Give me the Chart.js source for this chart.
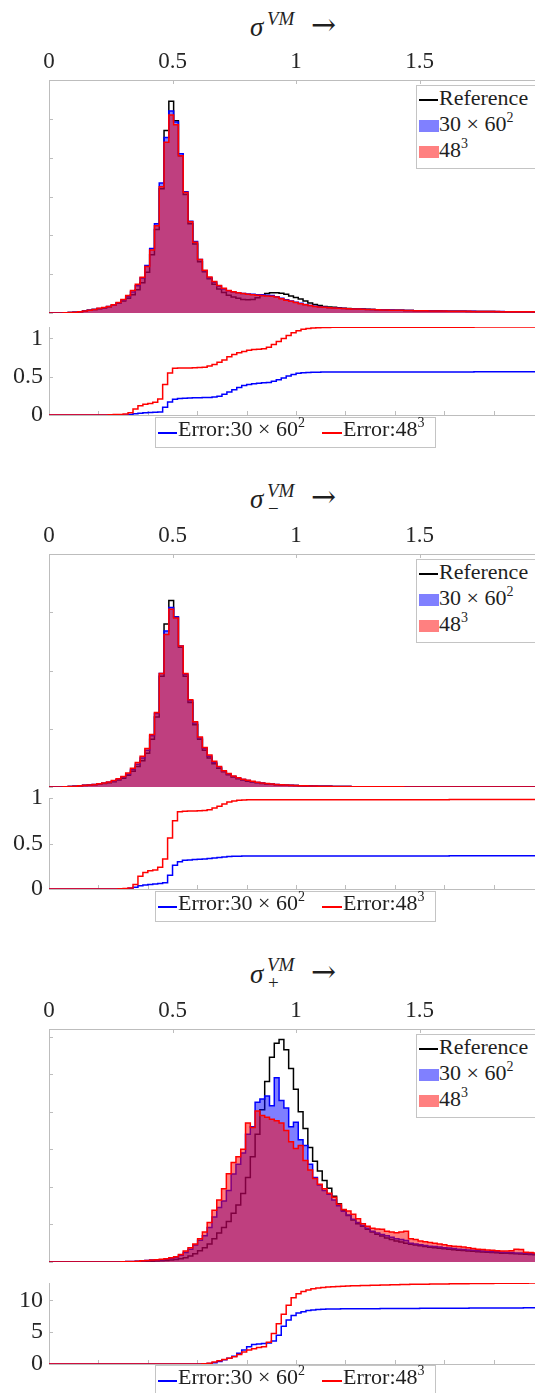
<!DOCTYPE html>
<html>
<head>
<meta charset="utf-8">
<script src="https://cdn.jsdelivr.net/npm/chart.js@4.4.1/dist/chart.umd.min.js"></script>
<style>
  html, body { margin: 0; padding: 0; background: #fff; }
  body { width: 535px; height: 1393px; position: relative; overflow: hidden;
         font-family: "Liberation Serif", "DejaVu Serif", serif; color: #1f1f1f; }
  canvas { position: absolute; left: 0; }
  .ttl span { position: absolute; line-height: 0; white-space: nowrap; }
  .ttl .sg { font-style: italic; font-size: 27px; }
  .ttl .sc { font-style: italic; font-size: 19px; }
  .ttl .sb { font-size: 19px; }
  .ttl .ar { font-size: 30px; font-family: "DejaVu Serif", serif; }
  .hleg { position: absolute; left: 416px; width: 140px; height: 82px; background: #fff;
          border: 1px solid #c4c4c4; font-size: 22px; z-index: 5; }
  .eleg { position: absolute; left: 155px; width: 279px; height: 29px; background: #fff;
          border: 1px solid #c4c4c4; font-size: 22px; z-index: 5; }
  .row { position: absolute; height: 26px; line-height: 26px; white-space: nowrap; }
  .ln { position: absolute; height: 1.5px; }
  .sw { position: absolute; width: 20px; height: 12px; }
  sup { font-size: 14px; line-height: 0; position: relative; top: -1px; }
</style>
</head>
<body>

<!-- panel titles -->
<div class="ttl">
  <span class="sg" style="left:250px; top:27px">σ</span>
  <span class="sc" style="left:267px; top:19px">VM</span>
  <span class="ar" style="left:311px; top:25px">→</span>
</div>
<div class="ttl">
  <span class="sg" style="left:250px; top:499px">σ</span>
  <span class="sc" style="left:267px; top:491px">VM</span>
  <span class="sb" style="left:268px; top:509px">−</span>
  <span class="ar" style="left:311px; top:497px">→</span>
</div>
<div class="ttl">
  <span class="sg" style="left:250px; top:974px">σ</span>
  <span class="sc" style="left:267px; top:965px">VM</span>
  <span class="sb" style="left:268px; top:983px">+</span>
  <span class="ar" style="left:311px; top:972px">→</span>
</div>

<canvas id="hist1" width="535" height="276" style="top:40px"></canvas>
<canvas id="err1" width="535" height="126" style="top:307px"></canvas>
<canvas id="hist2" width="535" height="276" style="top:514px"></canvas>
<canvas id="err2" width="535" height="129" style="top:778px"></canvas>
<canvas id="hist3" width="535" height="276" style="top:989px"></canvas>
<canvas id="err3" width="535" height="119" style="top:1263px"></canvas>

<!-- legends -->
<div class="hleg" style="top:85px">
  <div class="row" style="left:22px; top:-1px">Reference</div><span class="ln" style="left:2px; top:13px; width:19px; background:#000"></span>
  <span class="sw" style="left:2px; top:34px; background:#8080ff"></span><div class="row" style="left:22px; top:25px">30 × 60<sup>2</sup></div>
  <span class="sw" style="left:2px; top:60px; background:#ff8080"></span><div class="row" style="left:22px; top:51px">48<sup>3</sup></div>
</div>
<div class="hleg" style="top:559px">
  <div class="row" style="left:22px; top:-1px">Reference</div><span class="ln" style="left:2px; top:13px; width:19px; background:#000"></span>
  <span class="sw" style="left:2px; top:34px; background:#8080ff"></span><div class="row" style="left:22px; top:25px">30 × 60<sup>2</sup></div>
  <span class="sw" style="left:2px; top:60px; background:#ff8080"></span><div class="row" style="left:22px; top:51px">48<sup>3</sup></div>
</div>
<div class="hleg" style="top:1034px">
  <div class="row" style="left:22px; top:-1px">Reference</div><span class="ln" style="left:2px; top:13px; width:19px; background:#000"></span>
  <span class="sw" style="left:2px; top:34px; background:#8080ff"></span><div class="row" style="left:22px; top:25px">30 × 60<sup>2</sup></div>
  <span class="sw" style="left:2px; top:60px; background:#ff8080"></span><div class="row" style="left:22px; top:51px">48<sup>3</sup></div>
</div>

<div class="eleg" style="top:417px">
  <span class="ln" style="left:2px; top:14px; width:19px; background:#0000ff"></span><div class="row" style="left:22px; top:-2px">Error:30 × 60<sup>2</sup></div>
  <span class="ln" style="left:166px; top:14px; width:20px; background:#ff0000"></span><div class="row" style="left:187px; top:-2px">Error:48<sup>3</sup></div>
</div>
<div class="eleg" style="top:891px">
  <span class="ln" style="left:2px; top:14px; width:19px; background:#0000ff"></span><div class="row" style="left:22px; top:-2px">Error:30 × 60<sup>2</sup></div>
  <span class="ln" style="left:166px; top:14px; width:20px; background:#ff0000"></span><div class="row" style="left:187px; top:-2px">Error:48<sup>3</sup></div>
</div>
<div class="eleg" style="top:1365px">
  <span class="ln" style="left:2px; top:14px; width:19px; background:#0000ff"></span><div class="row" style="left:22px; top:-2px">Error:30 × 60<sup>2</sup></div>
  <span class="ln" style="left:166px; top:14px; width:20px; background:#ff0000"></span><div class="row" style="left:187px; top:-2px">Error:48<sup>3</sup></div>
</div>

<script>
// ---- histogram bins (pdf of the von Mises stress) ----
const HIST_BIN = 0.0194;   // histogram bin width
const ERR_STEP = 0.02;     // step of the cumulative error curves
const X_MAX = 1.967;
const xTickLabels = ['0', '0.5', '1', '1.5'];

// sigma^VM
const ref1 = [0,0,0,0.005,0.01,0.02,0.03,0.05,0.07,0.09,
  0.11,0.13,0.16,0.2,0.25,0.31,0.38,0.47,0.6,0.78,
  1.05,1.5,2.15,3.2,4.7,5.45,4.95,4.05,3.05,2.3,
  1.78,1.32,1.06,0.88,0.74,0.62,0.53,0.46,0.41,0.38,
  0.35,0.34,0.35,0.39,0.45,0.5,0.52,0.52,0.51,0.48,
  0.44,0.4,0.36,0.31,0.26,0.22,0.19,0.17,0.155,0.145,
  0.135,0.125,0.118,0.112,0.106,0.1,0.095,0.09,0.086,0.082,
  0.078,0.074,0.071,0.068,0.065,0.062,0.06,0.057,0.055,0.053,
  0.051,0.049,0.048,0.046,0.045,0.043,0.042,0.041,0.04,0.039,
  0.038,0.037,0.036,0.035,0.034,0.033,0.032,0.031,0.03,0.03,
  0.029,0.028];
const coarse1 = [0,0,0,0.005,0.01,0.02,0.03,0.05,0.07,0.09,
  0.115,0.135,0.165,0.2,0.26,0.33,0.42,0.54,0.7,0.9,
  1.22,1.66,2.3,3.35,4.52,5.2,4.92,4.1,3.12,2.36,
  1.84,1.38,1.09,0.91,0.79,0.69,0.62,0.57,0.54,0.52,
  0.5,0.49,0.48,0.47,0.47,0.46,0.45,0.42,0.38,0.34,
  0.31,0.28,0.25,0.22,0.195,0.175,0.16,0.148,0.138,0.13,
  0.123,0.117,0.111,0.106,0.101,0.097,0.093,0.089,0.085,0.081,
  0.078,0.075,0.072,0.069,0.066,0.064,0.061,0.059,0.057,0.055,
  0.053,0.051,0.05,0.048,0.047,0.045,0.044,0.043,0.042,0.041,
  0.04,0.039,0.038,0.037,0.036,0.035,0.034,0.033,0.032,0.032,
  0.031,0.03];
const fine1 = [0,0,0,0.005,0.01,0.02,0.03,0.05,0.07,0.09,
  0.12,0.14,0.17,0.21,0.27,0.35,0.45,0.58,0.74,0.92,
  1.2,1.62,2.25,3.25,4.4,5.1,4.85,4.05,3.1,2.35,
  1.82,1.38,1.1,0.93,0.81,0.71,0.64,0.58,0.55,0.52,
  0.5,0.48,0.47,0.46,0.45,0.44,0.43,0.41,0.37,0.33,
  0.3,0.27,0.24,0.21,0.19,0.17,0.155,0.145,0.135,0.13,
  0.122,0.116,0.11,0.105,0.1,0.096,0.092,0.088,0.084,0.08,
  0.077,0.074,0.071,0.068,0.065,0.063,0.06,0.058,0.056,0.054,
  0.052,0.05,0.049,0.047,0.046,0.044,0.043,0.042,0.041,0.04,
  0.039,0.038,0.037,0.036,0.035,0.034,0.033,0.032,0.031,0.031,
  0.03,0.029];
const errCoarse1 = [0,0,0,0,0,0,0,0,0,0,0,0,0,0,0,0,
  0.005,0.015,0.022,0.028,0.033,0.037,0.04,0.1,0.17,0.205,
  0.215,0.22,0.222,0.225,0.227,0.228,0.23,0.235,0.245,0.27,
  0.3,0.33,0.36,0.385,0.4,0.41,0.415,0.42,0.425,0.44,
  0.46,0.485,0.51,0.53,0.545,0.552,0.556,0.558,0.56,0.561,
  0.562,0.562,0.562,0.562,0.562,0.562,0.562,0.562,0.562,0.562,0.562,0.562,0.562,0.562,0.562,
  0.563,0.563,0.563,0.563,0.563,0.563,0.563,0.563,0.563,0.563,0.563,0.563,0.563,0.563,0.563,
  0.564,0.564,0.564,0.564,0.564,0.564,0.564,0.564,0.564,0.564,0.564,0.564,0.564,0.564,0.564,0.564];
const errFine1 = [0,0,0,0,0,0,0,0,0,0,0,0,
  0.003,0.005,0.008,0.012,0.03,0.08,0.12,0.14,0.15,0.165,
  0.21,0.4,0.55,0.61,0.615,0.615,0.615,0.617,0.62,0.625,
  0.64,0.66,0.69,0.72,0.76,0.79,0.815,0.83,0.845,0.855,
  0.86,0.865,0.885,0.92,0.96,1.0,1.04,1.075,1.1,1.12,
  1.13,1.137,1.141,1.144,1.145,
  1.146,1.146,1.146,1.146,1.146,1.146,1.146,1.146,
  1.147,1.147,1.147,1.147,1.147,1.147,1.147,1.147,1.147,1.147,1.147,
  1.148,1.148,1.148,1.148,1.148,1.148,1.148,1.148,1.148,1.148,
  1.149,1.149,1.149,1.149,1.149,1.149,1.149,1.149,1.149,1.149,
  1.15,1.15,1.15,1.15,1.15,1.15];

// sigma^VM_-
const ref2 = [0,0,0,0.005,0.01,0.015,0.02,0.025,0.03,0.04,
  0.05,0.06,0.075,0.09,0.12,0.15,0.2,0.27,0.35,0.45,
  0.58,0.82,1.2,1.9,2.8,3.2,2.92,2.4,1.9,1.45,
  1.07,0.82,0.63,0.5,0.4,0.32,0.26,0.21,0.17,0.14,
  0.12,0.1,0.085,0.072,0.062,0.053,0.046,0.04,0.035,0.031,
  0.027,0.024,0.021,0.019,0.017,0.015,0.013,0.012,0.011,0.01,
  0.009,0.008,0.007,0.006,0.006,0.005,0.005,0.004,0.004,0.004,
  0.003,0.003,0.003,0.003,0.002,0.002,0.002,0.002,0.002,0.002,
  0.002,0.001,0.001,0.001,0.001,0.001,0.001,0.001,0.001,0.001,
  0.001,0.001,0.001,0.001,0.001,0.001,0.001,0.001,0.001,0.001,
  0.001,0.001];
const coarse2 = [0,0,0,0.005,0.01,0.015,0.02,0.028,0.033,0.043,
  0.053,0.066,0.08,0.1,0.13,0.17,0.22,0.3,0.39,0.5,
  0.63,0.88,1.26,1.95,2.68,3.08,2.92,2.42,1.93,1.48,
  1.1,0.84,0.66,0.53,0.42,0.34,0.27,0.22,0.18,0.15,
  0.13,0.11,0.092,0.078,0.067,0.057,0.049,0.042,0.037,0.032,
  0.028,0.025,0.022,0.02,0.018,0.016,0.014,0.012,0.011,0.01,
  0.009,0.008,0.007,0.006,0.006,0.005,0.005,0.004,0.004,0.004,
  0.003,0.003,0.003,0.003,0.002,0.002,0.002,0.002,0.002,0.002,
  0.002,0.001,0.001,0.001,0.001,0.001,0.001,0.001,0.001,0.001,
  0.001,0.001,0.001,0.001,0.001,0.001,0.001,0.001,0.001,0.001,
  0.001,0.001];
const fine2 = [0,0,0,0.005,0.01,0.015,0.02,0.03,0.035,0.045,
  0.055,0.07,0.085,0.11,0.14,0.18,0.24,0.32,0.42,0.53,
  0.66,0.9,1.28,1.95,2.62,3.05,2.9,2.42,1.95,1.5,
  1.12,0.86,0.68,0.55,0.44,0.35,0.28,0.23,0.19,0.16,
  0.135,0.115,0.097,0.082,0.07,0.06,0.051,0.044,0.038,0.033,
  0.029,0.025,0.022,0.02,0.018,0.016,0.014,0.012,0.011,0.01,
  0.009,0.008,0.007,0.006,0.006,0.005,0.005,0.004,0.004,0.004,
  0.003,0.003,0.003,0.003,0.002,0.002,0.002,0.002,0.002,0.002,
  0.002,0.001,0.001,0.001,0.001,0.001,0.001,0.001,0.001,0.001,
  0.001,0.001,0.001,0.001,0.001,0.001,0.001,0.001,0.001,0.001,
  0.001,0.001];
const errCoarse2 = [0,0,0,0,0,0,0,0,0,0,0,0,0,0,0,
  0.003,0.008,0.02,0.035,0.045,0.05,0.055,0.06,0.07,0.15,
  0.26,0.3,0.315,0.32,0.323,0.327,0.33,0.335,0.34,0.347,
  0.352,0.356,0.359,0.361,0.362,
  0.363,0.363,0.363,0.363,0.363,0.363,0.363,0.363,0.363,0.363,0.363,
  0.363,0.363,0.363,0.363,0.363,0.363,0.363,0.363,0.363,0.363,
  0.364,0.364,0.364,0.364,0.364,0.364,0.364,0.364,0.364,0.364,
  0.364,0.364,0.364,0.364,0.364,0.364,0.364,0.364,0.364,0.364,
  0.365,0.365,0.365,0.365,0.365,0.365,0.365,0.365,0.365,0.365,0.365,
  0.365,0.365,0.365,0.365,0.365,0.365,0.365,0.365,0.365,0.365];
const errFine2 = [0,0,0,0,0,0,0,0,0,0,0,0,0,0,
  0.002,0.005,0.01,0.05,0.14,0.18,0.2,0.21,0.24,0.33,
  0.56,0.75,0.85,0.855,0.857,0.858,0.86,0.863,0.87,0.89,
  0.91,0.935,0.955,0.968,0.975,0.978,0.98,
  0.981,0.981,0.981,0.981,0.981,0.981,0.981,0.981,0.981,0.981,
  0.981,0.981,0.981,0.981,0.981,0.981,0.981,0.981,0.981,0.981,
  0.982,0.982,0.982,0.982,0.982,0.982,0.982,0.982,0.982,0.982,
  0.982,0.982,0.982,0.982,0.982,0.982,0.982,0.982,0.982,0.982,
  0.983,0.983,0.983,0.983,0.983,0.983,0.983,0.983,0.983,0.983,0.983,
  0.983,0.983,0.983,0.983,0.983,0.983,0.983,0.983,0.983,0.983];

// sigma^VM_+
const ref3 = [0,0,0,0,0,0,0,0,0,0,0,0,0,0,0,0,
  0.003,0.006,0.01,0.013,0.017,0.021,0.026,0.031,0.037,0.05,
  0.065,0.085,0.11,0.16,0.22,0.3,0.38,0.48,0.62,0.77,
  0.92,1.08,1.3,1.52,1.82,2.25,2.8,3.4,4.05,4.8,
  5.45,5.82,5.92,5.65,5.15,4.6,4.0,3.55,3.05,2.68,
  2.42,2.17,1.96,1.75,1.55,1.38,1.24,1.12,1.02,0.95,
  0.87,0.8,0.74,0.69,0.64,0.6,0.56,0.53,0.5,0.475,
  0.455,0.435,0.415,0.395,0.38,0.365,0.35,0.34,0.325,0.315,
  0.305,0.295,0.285,0.275,0.265,0.258,0.25,0.243,0.236,0.23,
  0.224,0.218,0.212,0.206,0.2,0.195];
const coarse3 = [0,0,0,0,0,0,0,0,0,0,0,0,0,0,0,
  0.005,0.01,0.015,0.02,0.03,0.04,0.05,0.055,0.06,0.07,
  0.09,0.12,0.18,0.25,0.34,0.45,0.58,0.7,0.92,1.2,
  1.45,1.62,1.9,2.34,2.6,2.9,3.4,3.6,4.25,4.34,
  4.42,4.16,4.9,4.3,4.1,3.6,3.72,3.25,3.1,2.6,
  2.25,2.05,1.9,1.8,1.65,1.5,1.35,1.25,1.14,1.05,
  0.97,0.9,0.82,0.77,0.73,0.7,0.66,0.62,0.6,0.57,
  0.5,0.48,0.46,0.44,0.42,0.41,0.4,0.38,0.37,0.36,
  0.34,0.33,0.32,0.31,0.3,0.29,0.28,0.27,0.27,0.26,
  0.25,0.25,0.24,0.24,0.23,0.22,0.22];
const fine3 = [0,0,0,0,0,0,0,0,0,0,0,0,0,0,0,
  0.005,0.01,0.015,0.02,0.03,0.04,0.05,0.06,0.07,0.085,
  0.11,0.14,0.2,0.29,0.38,0.48,0.62,0.8,1.05,1.38,
  1.65,1.95,2.35,2.65,2.8,3.0,3.7,3.58,4.02,3.9,
  3.85,3.8,3.76,3.7,3.5,3.2,3.02,3.1,2.7,2.45,
  2.22,2.07,1.95,1.83,1.72,1.54,1.4,1.36,1.27,1.15,
  1.02,0.95,0.9,0.88,0.87,0.82,0.8,0.78,0.8,0.82,
  0.62,0.6,0.56,0.54,0.52,0.5,0.48,0.46,0.43,0.42,
  0.41,0.4,0.38,0.36,0.34,0.33,0.32,0.31,0.3,0.29,
  0.29,0.3,0.34,0.33,0.26,0.25,0.24];
const errCoarse3 = [0,0,0,0,0,0,0,0,0,0,0,0,0,0,0,0,0,0,0,0,0,0,0,0,0,0,0,0,0,0,0,
  0.02,0.08,0.2,0.4,0.65,0.9,1.2,1.7,2.2,2.7,
  3.05,3.15,3.2,3.3,3.6,4.5,5.9,6.9,7.6,8.0,
  8.2,8.38,8.48,8.55,8.6,8.62,8.63,8.64,8.65,8.65,
  8.66,8.66,8.67,8.67,8.68,8.68,8.69,8.69,8.7,8.7,
  8.71,8.71,8.72,8.72,8.73,8.73,8.74,8.74,8.75,8.75,
  8.75,8.76,8.76,8.76,8.77,8.77,8.77,8.78,8.78,8.78,
  8.78,8.79,8.79,8.79,8.79,8.8,8.8,8.8,8.8,8.8,8.8];
const errFine3 = [0,0,0,0,0,0,0,0,0,0,0,0,0,0,0,0,0,0,0,0,0,0,0,0,0,0,0,0,0,0,0,
  0.03,0.1,0.3,0.5,0.7,0.92,1.15,1.5,1.9,2.2,
  2.4,2.6,2.7,3.4,4.8,6.3,7.8,9.2,10.4,11.0,
  11.35,11.6,11.8,11.92,12.0,12.07,12.12,12.16,12.2,12.22,
  12.25,12.27,12.29,12.31,12.33,12.35,12.37,12.39,12.41,12.43,
  12.45,12.47,12.49,12.5,12.51,12.52,12.53,12.54,12.55,12.56,
  12.57,12.58,12.59,12.6,12.61,12.62,12.63,12.64,12.64,12.65,
  12.66,12.66,12.67,12.67,12.68,12.68,12.69,12.69,12.7,12.7,12.7];

// ---- drawing ----
Chart.defaults.font.family = "'Liberation Serif', 'DejaVu Serif', serif";
Chart.defaults.color = '#262626';
const AXIS_GRAY = '#bdbdbd';

// small tick marks pointing into the plot, at the scale's own ticks
const innerTicks = {
  id: 'innerTicks',
  beforeDatasetsDraw(chart, args, opts) {
    const { ctx, chartArea: a } = chart;
    ctx.save();
    ctx.strokeStyle = AXIS_GRAY;
    ctx.lineWidth = 1;
    (opts.axes || []).forEach(id => {
      const s = chart.scales[id];
      s.ticks.forEach(t => {
        const p = Math.round(s.getPixelForValue(t.value)) + 0.5;
        ctx.beginPath();
        if (s.isHorizontal()) {
          const y0 = s.position === 'top' ? a.top : a.bottom;
          const dir = s.position === 'top' ? 1 : -1;
          ctx.moveTo(p, y0); ctx.lineTo(p, y0 + dir * 4);
        } else {
          ctx.moveTo(a.left, p); ctx.lineTo(a.left + 4, p);
        }
        ctx.stroke();
      });
    });
    ctx.restore();
  }
};

const plainNumber = v => String(+Number(v).toFixed(2));

function fixBox(size) {
  return s => {
    if (s.isHorizontal()) { s.height = size; } else { s.width = size; }
    s.paddingTop = 0; s.paddingBottom = 0; s.paddingLeft = 0; s.paddingRight = 0;
  };
}

function stepPoints(values, width) {
  const pts = values.map((v, i) => ({ x: i * width, y: v }));
  pts.push({ x: values.length * width, y: values[values.length - 1] });
  return pts;
}

function lineSet(label, values, width, color, fillColor, order) {
  return {
    label, data: stepPoints(values, width), stepped: true,
    borderColor: color, backgroundColor: fillColor || 'transparent',
    fill: fillColor ? 'origin' : false, borderWidth: 1.5,
    pointRadius: 0, order
  };
}

function drawHist(id, yMax, ref, coarse, fine) {
  new Chart(document.getElementById(id), {
    type: 'line',
    data: { datasets: [
      lineSet('48³', fine, HIST_BIN, '#ff0000', 'rgba(255,0,0,0.5)', 0),
      lineSet('30 × 60²', coarse, HIST_BIN, '#0000ff', 'rgba(0,0,255,0.5)', 1),
      lineSet('Reference', ref, HIST_BIN, '#000000', null, 2)
    ]},
    options: {
      responsive: false, devicePixelRatio: 1, animation: false,
      layout: { padding: { top: 0, right: 0, bottom: 3, left: 0 }, autoPadding: false },
      plugins: { legend: { display: false }, tooltip: { enabled: false }, innerTicks: { axes: ['x', 'y'] } },
      scales: {
        x: {
          type: 'linear', position: 'top', min: 0, max: X_MAX,
          ticks: { stepSize: 0.5, includeBounds: false, padding: 4, maxRotation: 0, autoSkip: false,
                   font: { size: 23 },
                   callback: v => { const s = plainNumber(v); return xTickLabels.includes(s) ? s : ''; } },
          grid: { drawOnChartArea: false, drawTicks: false },
          border: { display: true, color: AXIS_GRAY, width: 1 },
          afterFit: fixBox(40)
        },
        y: {
          position: 'left', min: 0, max: yMax,
          ticks: { stepSize: 1, includeBounds: false, display: false },
          grid: { drawOnChartArea: false, drawTicks: false },
          border: { display: true, color: AXIS_GRAY, width: 1 },
          afterFit: fixBox(49)
        }
      }
    },
    plugins: [innerTicks]
  });
}

function drawErr(id, padTop, yMax, yStep, coarse, fine) {
  new Chart(document.getElementById(id), {
    type: 'line',
    data: { datasets: [
      lineSet('Error:48³', fine, ERR_STEP, '#ff0000', null, 0),
      lineSet('Error:30 × 60²', coarse, ERR_STEP, '#0000ff', null, 1)
    ]},
    options: {
      responsive: false, devicePixelRatio: 1, animation: false,
      layout: { padding: { top: padTop, right: 0, bottom: 14, left: 0 }, autoPadding: false },
      plugins: { legend: { display: false }, tooltip: { enabled: false }, innerTicks: { axes: ['x', 'y'] } },
      scales: {
        x: {
          type: 'linear', position: 'bottom', min: 0, max: X_MAX,
          ticks: { stepSize: 0.2, includeBounds: false, display: false },
          grid: { drawOnChartArea: false, drawTicks: false },
          border: { display: true, color: AXIS_GRAY, width: 1 },
          afterFit: fixBox(4)
        },
        y: {
          position: 'left', min: 0, max: yMax,
          ticks: { stepSize: yStep, includeBounds: false, padding: 6, font: { size: 24 }, callback: plainNumber },
          grid: { drawOnChartArea: false, drawTicks: false },
          border: { display: true, color: AXIS_GRAY, width: 1 },
          afterFit: fixBox(49)
        }
      }
    },
    plugins: [innerTicks]
  });
}

drawHist('hist1', 6, ref1, coarse1, fine1);
drawErr('err1', 20, 1.15, 0.5, errCoarse1, errFine1);
drawHist('hist2', 4, ref2, coarse2, fine2);
drawErr('err2', 20, 1.0, 0.5, errCoarse2, errFine2);
drawHist('hist3', 6.2, ref3, coarse3, fine3);
drawErr('err3', 20, 12.7, 5, errCoarse3, errFine3);
</script>
</body>
</html>
